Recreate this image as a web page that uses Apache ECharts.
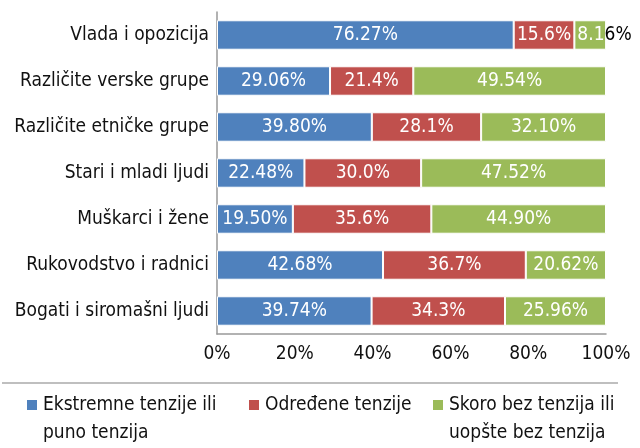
<!DOCTYPE html>
<html><head><meta charset="utf-8">
<script src="https://cdn.jsdelivr.net/npm/echarts@6/dist/echarts.min.js"></script>
<style>html,body{margin:0;padding:0;background:#fff}#c{width:640px;height:448px}</style>
</head><body><div id="c"></div>
<script>
const categories = ['Vlada i opozicija','Različite verske grupe','Različite etničke grupe','Stari i mladi ljudi','Muškarci i žene','Rukovodstvo i radnici','Bogati i siromašni ljudi'];
const extreme = [76.27, 29.06, 39.80, 22.48, 19.50, 42.68, 39.74];
const certain = [15.6, 21.4, 28.1, 30.0, 35.6, 36.7, 34.3];
const almostNone = [8.16, 49.54, 32.10, 47.52, 44.90, 20.62, 25.96];
const seriesNames = ['Ekstremne tenzije ili\npuno tenzija', 'Određene tenzije', 'Skoro bez tenzija ili\nuopšte bez tenzija'];
const tickLabels = ['0%','20%','40%','60%','80%','100%'];

const FONT = '"DejaVu Sans Condensed","Liberation Sans Narrow",sans-serif';
const colors = ['#4F81BD','#C0504D','#9BBB59'];
const decimals = [2,1,2];

function mkData(arr, si){
  return arr.map(v => {
    const txt = v.toFixed(decimals[si]) + '%';
    if (v < 10) {
      return {value: v, label: {position: 'insideLeft', distance: 3,
        formatter: '{w|' + txt.slice(0,3) + '}{k|' + txt.slice(3) + '}'}};
    }
    return {value: v};
  });
}
function mkSeries(arr, si){
  return {
    name: seriesNames[si], type: 'bar', stack: 'all', barWidth: '64%',
    data: mkData(arr, si),
    itemStyle: {color: colors[si], borderColor: '#fff', borderWidth: 1},
    label: {show: true, position: 'inside', color: '#fff', fontSize: 19, fontFamily: FONT,
      formatter: p => p.value.toFixed(decimals[si]) + '%',
      rich: {w: {color: '#fff', fontSize: 19, fontFamily: FONT}, k: {color: '#000', fontSize: 19, fontFamily: FONT}}},
    emphasis: {disabled: true}
  };
}
const LH = 28;
function legendFor(si, left){
  return {
    data: [seriesNames[si]],
    left: left, top: 391, icon: 'rect', itemWidth: 0, itemHeight: 0, padding: 0,
    formatter: name => name.split('\n').map((l, i) => (i === 0 ? '{sq| }' : '{sp| }') + '{t|' + l + '}').join('\n'),
    textStyle: {fontSize: 19, fontFamily: FONT, color: '#111', lineHeight: LH,
      rich: {
        sq: {width: 10, height: 10, backgroundColor: colors[si], fontSize: 1, lineHeight: LH},
        sp: {width: 10, height: 10, fontSize: 1, lineHeight: LH},
        t: {fontSize: 19, fontFamily: FONT, color: '#111', lineHeight: LH, padding: [0, 0, 0, 6]}
      }},
    selectedMode: false
  };
}
const chart = echarts.init(document.getElementById('c'));
chart.setOption({
  animation: false,
  grid: {left: 217, right: 34, top: 12, bottom: 114},
  xAxis: {type: 'value', min: 0, max: 100, interval: 20,
    axisLine: {show: true, lineStyle: {color: '#999', width: 1.5}},
    axisTick: {show: false}, splitLine: {show: false},
    axisLabel: {fontSize: 19, fontFamily: FONT, color: '#111', margin: 11,
      formatter: v => tickLabels[Math.round(v/20)]}},
  yAxis: {type: 'category', data: categories, inverse: true,
    axisLine: {show: true, lineStyle: {color: '#999', width: 1.5}},
    axisTick: {show: false},
    axisLabel: {fontSize: 19, fontFamily: FONT, color: '#111', margin: 8}},
  legend: [legendFor(0, 21), legendFor(1, 243), legendFor(2, 427)],
  graphic: [{type: 'line', shape: {x1: 2, y1: 383, x2: 618, y2: 383}, style: {stroke: '#aaa', lineWidth: 1.5}}],
  series: [mkSeries(extreme,0), mkSeries(certain,1), mkSeries(almostNone,2)]
});
</script></body></html>
